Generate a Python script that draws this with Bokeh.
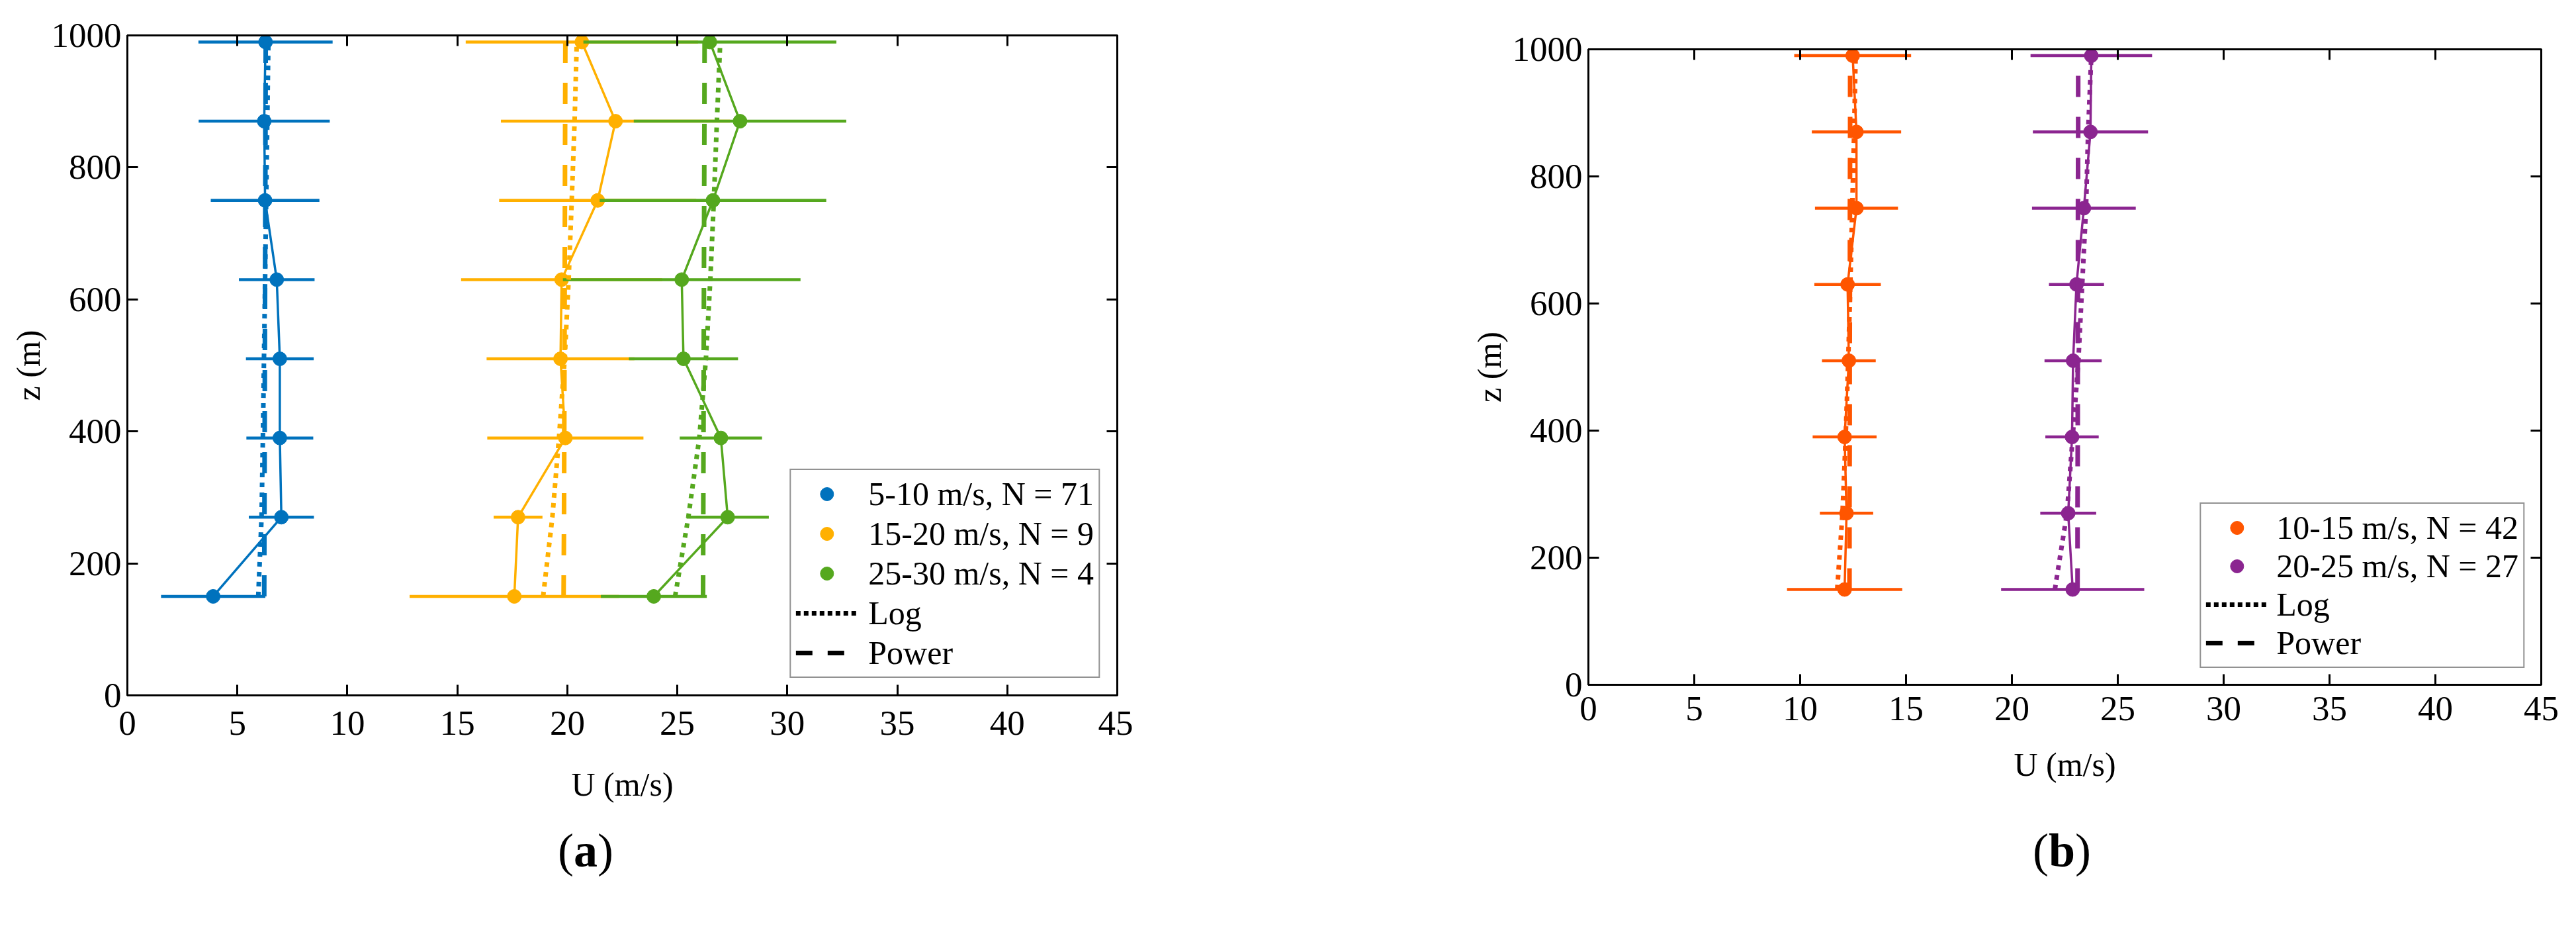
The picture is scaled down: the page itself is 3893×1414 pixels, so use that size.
import numpy as np
from bokeh.plotting import figure
from bokeh.models import Range1d, LinearAxis, FixedTicker, Legend, LegendItem, Div, Spacer
from bokeh.layouts import row, column
from bokeh.embed import file_html
from bokeh.resources import INLINE

# ---------------- data ----------------
heights = [150, 270, 390, 510, 630, 750, 870, 990]
x_ticks = [0, 5, 10, 15, 20, 25, 30, 35, 40, 45]
y_ticks = [0, 200, 400, 600, 800, 1000]
x_title = "U (m/s)"
y_title = "z (m)"
fit_labels = ["Log", "Power"]

# panel (a)
a_names = ["5-10 m/s, N = 71", "15-20 m/s, N = 9", "25-30 m/s, N = 4"]
u_5_10 = [3.90, 7.00, 6.93, 6.93, 6.79, 6.26, 6.22, 6.28]
sd_5_10 = [2.37, 1.48, 1.52, 1.54, 1.72, 2.47, 2.98, 3.05]
log_5_10 = [5.95, 6.10, 6.16, 6.21, 6.26, 6.31, 6.36, 6.41]
pow_5_10 = [6.22, 6.23, 6.24, 6.25, 6.26, 6.27, 6.28, 6.29]

u_15_20 = [17.59, 17.76, 19.91, 19.69, 19.74, 21.38, 22.19, 20.66]
sd_15_20 = [4.76, 1.11, 3.55, 3.36, 4.57, 4.48, 5.21, 5.28]
log_15_20 = [18.90, 19.32, 19.62, 19.88, 20.06, 20.20, 20.33, 20.43]
pow_15_20 = [19.83, 19.85, 19.86, 19.87, 19.88, 19.89, 19.90, 19.91]

u_25_30 = [23.93, 27.29, 26.98, 25.28, 25.20, 26.62, 27.85, 26.48]
sd_25_30 = [2.41, 1.87, 1.87, 2.48, 5.40, 5.15, 4.83, 5.75]
log_25_30 = [24.90, 25.50, 26.00, 26.30, 26.50, 26.66, 26.80, 26.95]
pow_25_30 = [26.17, 26.18, 26.19, 26.20, 26.21, 26.22, 26.23, 26.24]

# panel (b)
b_names = ["10-15 m/s, N = 42", "20-25 m/s, N = 27"]
u_10_15 = [12.10, 12.19, 12.10, 12.30, 12.24, 12.66, 12.66, 12.48]
sd_10_15 = [2.72, 1.26, 1.51, 1.27, 1.57, 1.96, 2.11, 2.76]
log_10_15 = [11.75, 12.00, 12.15, 12.27, 12.37, 12.46, 12.55, 12.62]
pow_10_15 = [12.33, 12.33, 12.34, 12.34, 12.35, 12.35, 12.36, 12.36]

u_20_25 = [22.87, 22.66, 22.84, 22.89, 23.05, 23.40, 23.71, 23.75]
sd_20_25 = [3.38, 1.32, 1.26, 1.35, 1.30, 2.45, 2.72, 2.87]
log_20_25 = [22.03, 22.60, 22.87, 23.14, 23.32, 23.50, 23.60, 23.75]
pow_20_25 = [23.10, 23.10, 23.11, 23.11, 23.12, 23.12, 23.13, 23.13]

C_BLUE, C_YELLOW, C_GREEN = "#0072BD", "#FFB000", "#55A81E"
C_ORANGE, C_PURPLE = "#FF5500", "#8B2590"

FONT = "Liberation Serif"
FS = "50px"
TICK_FS = "53px"


def style_axis(ax, labels=True, standoff=17, label_standoff=12):
    ax.axis_line_color = "black"
    ax.axis_line_width = 3
    ax.major_tick_in = 16
    ax.major_tick_out = 0
    ax.major_tick_line_width = 3
    ax.major_tick_line_color = "black"
    ax.minor_tick_line_color = None
    ax.major_label_text_font = FONT
    ax.major_label_text_color = "black"
    if labels:
        ax.major_label_text_font_size = TICK_FS
        ax.major_label_standoff = standoff
        ax.axis_label_text_font = FONT
        ax.axis_label_text_font_size = FS
        ax.axis_label_text_font_style = "normal"
        ax.axis_label_text_color = "black"
        ax.axis_label_standoff = label_standoff
    else:
        ax.major_label_text_font_size = "0px"
        ax.major_label_text_color = None
        ax.major_label_standoff = 0


def make_panel(series, width, height, bl, br, bt, bb, xstand, xlab_stand, leg_margin, leg_spacing, leg_standoff):
    p = figure(width=width, height=height, x_range=Range1d(0, 45), y_range=Range1d(0, 1000),
               output_backend="svg", toolbar_location=None,
               min_border_left=bl, min_border_right=br, min_border_top=bt, min_border_bottom=bb,
               x_axis_label=x_title, y_axis_label=y_title)
    p.xgrid.visible = False
    p.ygrid.visible = False
    p.outline_line_color = "black"
    p.outline_line_width = 3
    p.background_fill_color = "white"
    p.border_fill_color = "white"

    p.xaxis.ticker = FixedTicker(ticks=x_ticks)
    p.yaxis.ticker = FixedTicker(ticks=y_ticks)
    style_axis(p.xaxis[0], True, xstand, xlab_stand)
    style_axis(p.yaxis[0], True, 9, 4)

    top = LinearAxis(ticker=FixedTicker(ticks=x_ticks))
    style_axis(top, False)
    p.add_layout(top, "above")
    right = LinearAxis(ticker=FixedTicker(ticks=y_ticks))
    style_axis(right, False)
    p.add_layout(right, "right")

    items = []
    for name, u, sd, lg, pw, c in series:
        u_a = np.array(u)
        sd_a = np.array(sd)
        p.segment(x0=u_a - sd_a, y0=heights, x1=u_a + sd_a, y1=heights, line_color=c, line_width=4.5)
        p.line(u, heights, line_color=c, line_width=3.5)
        r = p.scatter(u, heights, marker="circle", size=21, fill_color=c, line_color=c)
        items.append(LegendItem(label=name, renderers=[r]))
    for name, u, sd, lg, pw, c in series:
        p.line(lg, heights, line_color=c, line_width=7, line_dash="7 8")
        p.line(pw, heights, line_color=c, line_width=7, line_dash="32 30")

    nan2 = [np.nan, np.nan]
    dl = p.line(x=nan2, y=nan2, line_color="black", line_width=7, line_dash="7 5")
    dp = p.line(x=nan2, y=nan2, line_color="black", line_width=7, line_dash="25 23")
    items.append(LegendItem(label=fit_labels[0], renderers=[dl]))
    items.append(LegendItem(label=fit_labels[1], renderers=[dp]))

    leg = Legend(items=items, location="bottom_right")
    leg.margin = leg_margin
    leg.padding = 7
    leg.spacing = leg_spacing
    leg.glyph_width = 94
    leg.glyph_height = 50
    leg.label_height = 50
    leg.label_standoff = leg_standoff
    leg.label_text_font = FONT
    leg.label_text_font_size = FS
    leg.label_text_color = "black"
    leg.border_line_color = "#262626"
    leg.border_line_width = 2.5
    leg.background_fill_color = "white"
    leg.background_fill_alpha = 1.0
    p.add_layout(leg)
    return p


series_a = [
    (a_names[0], u_5_10, sd_5_10, log_5_10, pow_5_10, C_BLUE),
    (a_names[1], u_15_20, sd_15_20, log_15_20, pow_15_20, C_YELLOW),
    (a_names[2], u_25_30, sd_25_30, log_25_30, pow_25_30, C_GREEN),
]
series_b = [
    (b_names[0], u_10_15, sd_10_15, log_10_15, pow_10_15, C_ORANGE),
    (b_names[1], u_20_25, sd_20_25, log_20_25, pow_20_25, C_PURPLE),
]

pa = make_panel(series_a, 1712, 1245, 192, 24, 53, 195, 24, 44, 26, 2, 16)
pb = make_panel(series_b, 1670, 1245, 200, 30, 74, 211, 18, 36, 25, 0, 13)


def panel_tag(letter, left):
    html = ('<div style="font-family:\'Liberation Serif\',serif;font-size:72px;line-height:80px;'
            'text-align:center;width:200px;color:black">(<b>%s</b>)</div>' % letter)
    return Div(text=html, width=200, height=80, margin=(0, 0, 0, left))


col_a = column(pa, panel_tag("a", 785))
col_b = column(pb, panel_tag("b", 816))
layout = row(col_a, Spacer(width=488, height=10), col_b)

open("out.html", "w").write(file_html(layout, INLINE))
